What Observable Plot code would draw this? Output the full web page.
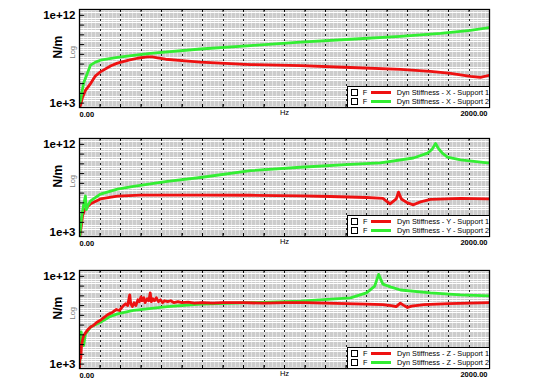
<!DOCTYPE html>
<html><head><meta charset="utf-8">
<script src="https://cdn.jsdelivr.net/npm/d3@7"></script>
<script src="https://cdn.jsdelivr.net/npm/@observablehq/plot@0.6"></script>
<style>
body{margin:0;background:#fff;font-family:"Liberation Sans",Arial,sans-serif;}
#wrap{position:relative;width:546px;height:388px;overflow:hidden;background:#fff;}
.panel{position:absolute;left:0;}
.legend{position:absolute;background:#fff;border:1px solid #000;box-sizing:border-box;font-size:7.3px;color:#000;padding:1px 0 0 3px;}
.row{height:9px;line-height:9px;white-space:nowrap;display:flex;align-items:center;}
.cb{display:inline-block;width:5px;height:5px;border:1px solid #000;margin-right:5px;}
.sw{display:inline-block;width:20px;height:3px;margin:0 6px 0 4px;}
</style></head><body><div id="wrap"></div><script>
// ---------- data (log10 of dynamic stiffness in N/m) ----------
const axesNames = ["X", "Y", "Z"];
const seriesNames = ["Support 1", "Support 2"];
const yTickValues = [1e3, 1e12];
const yTickLabels = ["1e+3", "1e+12"];
const xTickLabels = ["0.00", "2000.00"];

const freqX1 = [0, 5, 15, 29, 54, 78, 102, 151, 185, 240, 283, 330, 356, 380, 420, 500, 590, 834, 1078, 1322, 1566, 1712, 1810, 1907, 1956, 2000];
const logX1  = [2.5, 2.8, 3.6, 4.3, 5.0, 5.8, 6.2, 6.8, 7.1, 7.4, 7.6, 7.75, 7.75, 7.65, 7.5, 7.35, 7.2, 6.95, 6.85, 6.65, 6.45, 6.25, 6.05, 5.75, 5.65, 5.85];
const freqX2 = [0, 5, 20, 29, 54, 78, 102, 185, 283, 346, 590, 834, 1078, 1322, 1566, 1761, 1907, 2000];
const logX2  = [3.0, 3.3, 5.05, 5.55, 6.9, 7.2, 7.4, 7.7, 7.95, 8.1, 8.55, 8.9, 9.25, 9.55, 9.85, 10.15, 10.45, 10.75];

const freqY1 = [0, 10, 15, 25, 39, 54, 102, 185, 298, 590, 834, 1078, 1224, 1400, 1480, 1515, 1545, 1556, 1570, 1600, 1629, 1663, 1712, 1859, 1990, 2000];
const logY1  = [2.4, 3.8, 4.7, 5.3, 5.6, 5.9, 6.4, 6.7, 6.8, 6.8, 6.78, 6.72, 6.65, 6.55, 6.45, 5.9, 6.4, 7.1, 6.4, 6.0, 5.8, 6.1, 6.35, 6.45, 6.4, 6.4];
const freqY2 = [0, 10, 20, 29, 33, 40, 54, 102, 185, 263, 429, 590, 834, 1078, 1322, 1468, 1629, 1698, 1720, 1737, 1750, 1770, 1795, 1859, 1990, 2000];
const logY2  = [2.5, 4.5, 5.8, 6.7, 5.3, 5.7, 6.2, 6.9, 7.4, 7.7, 8.2, 8.6, 9.3, 9.65, 9.95, 10.1, 10.6, 11.1, 11.5, 12.1, 11.6, 11.1, 10.7, 10.4, 10.1, 10.1];

const freqZ1 = [0, 3, 6, 10, 15, 20, 29, 39, 54, 70, 85, 102, 120, 140, 160, 180, 195, 210, 225, 235, 245, 250, 258, 266, 275, 285, 292, 300, 306, 314, 320, 330, 338, 345, 350, 358, 366, 375, 385, 395, 405, 415, 430, 445, 460, 480, 500, 530, 560, 600, 650, 700, 800, 900, 1000, 1100, 1200, 1300, 1400, 1480, 1520, 1545, 1565, 1580, 1600, 1620, 1680, 1800, 1900, 2000];
const logZ1  = [2.5, 4.8, 3.6, 5.0, 5.5, 5.9, 6.2, 6.5, 6.8, 7.0, 7.3, 7.5, 7.8, 8.1, 8.3, 8.6, 8.5, 8.9, 9.2, 9.0, 10.1, 9.2, 8.9, 9.3, 9.0, 9.6, 9.4, 9.9, 9.5, 9.8, 9.3, 9.7, 9.5, 10.3, 9.4, 9.7, 9.5, 9.8, 9.4, 9.6, 9.3, 9.5, 9.4, 9.5, 9.3, 9.4, 9.3, 9.35, 9.25, 9.3, 9.25, 9.3, 9.3, 9.25, 9.3, 9.3, 9.25, 9.2, 9.15, 9.1, 9.0, 8.9, 9.25, 9.05, 8.8, 8.95, 9.1, 9.2, 9.25, 9.3];
const freqZ2 = [0, 4, 8, 12, 16, 20, 29, 54, 102, 151, 185, 263, 429, 590, 834, 1078, 1322, 1400, 1440, 1459, 1480, 1520, 1566, 1712, 1859, 2000];
const logZ2  = [2.5, 4.5, 6.3, 5.0, 5.4, 4.9, 6.1, 6.8, 7.3, 7.9, 8.15, 8.5, 8.9, 9.15, 9.3, 9.45, 9.8, 10.3, 11.0, 12.2, 11.2, 10.9, 10.6, 10.3, 10.1, 10.0];

const colors = ["#ee1111", "#33ee33"];

const panels = [
  {axis: "X", top: 0,   s: [[freqX1, logX1], [freqX2, logX2]], order: [0, 1]},
  {axis: "Y", top: 129, s: [[freqY1, logY1], [freqY2, logY2]], order: [0, 1]},
  {axis: "Z", top: 261, s: [[freqZ1, logZ1], [freqZ2, logZ2]], order: [1, 0]}
];

const yLo = Math.pow(10, 2.55), yHi = Math.pow(10, 12.6);
const minorY = [];
for (let k = 2; k <= 12; k++) for (const m of [2, 3, 5]) { const v = m * Math.pow(10, k); if (v > yLo && v < yHi) minorY.push(v); }
const decades = d3.range(3, 13).map(k => Math.pow(10, k));
const minorX = d3.range(0, 2001, 20);
const majorX = d3.range(100, 2000, 100);

const wrap = document.getElementById("wrap");
const H = 120, MT = 9, MB = 13, ML = 79, MR = 57;

panels.forEach(p => {
  const data = p.s.map(([f, v], i) => f.map((x, j) => ({f: x, k: Math.pow(10, v[j]), i})));
  const lines = p.order.map(i => Plot.line(data[i], {x: "f", y: "k", stroke: colors[i], strokeWidth: 2.8, curve: "linear", clip: "frame"}));
  const svg = Plot.plot({
    width: 546, height: H, marginTop: MT, marginBottom: MB, marginLeft: ML, marginRight: MR,
    style: {fontFamily: "Liberation Sans, Arial, sans-serif", background: "transparent"},
    x: {domain: [0, 2000], axis: null},
    y: {type: "log", domain: [yLo, yHi], axis: null},
    marks: [
      Plot.frame({fill: "#cccccc", stroke: null}),
      Plot.ruleX(minorX, {stroke: "#e2e2e2", strokeWidth: 1, shapeRendering: "crispEdges"}),
      Plot.ruleY(minorY, {stroke: "#fff", strokeWidth: 1, shapeRendering: "crispEdges"}),
      Plot.ruleX(majorX, {stroke: "#000", strokeWidth: 1, strokeDasharray: "2,3", strokeOpacity: 0.85, shapeRendering: "crispEdges"}),
      ...lines,
      Plot.ruleY(decades, {x1: 0, x2: 25, stroke: "#000", strokeWidth: 1}),
      Plot.ruleX(majorX, {y1: yLo, y2: Math.pow(10, 2.85), stroke: "#000"}),
      Plot.ruleX(majorX, {y1: Math.pow(10, 12.3), y2: yHi, stroke: "#000"}),
      Plot.frame({stroke: "#000", strokeWidth: 1.3}),
      Plot.text(yTickValues, {x: 0, y: d => d, text: (d, i) => yTickLabels[i], dx: -4, textAnchor: "end", fontSize: 11.5, fontWeight: "bold", fill: "#000"}),
      Plot.text(["N/m"], {frameAnchor: "left", rotate: -90, dx: -21, fontSize: 12, fontWeight: "bold", fill: "#000"}),
      Plot.text(["Log"], {frameAnchor: "left", rotate: -90, dx: -7, fontSize: 7.5, fill: "#777"}),
      Plot.text([xTickLabels[0]], {frameAnchor: "bottom-left", dy: 9, textAnchor: "start", fontSize: 7.5, fontWeight: "bold", fill: "#000"}),
      Plot.text([xTickLabels[1]], {frameAnchor: "bottom-right", dy: 8, dx: -2, textAnchor: "end", fontSize: 7.5, fontWeight: "bold", fill: "#000"}),
      Plot.text(["Hz"], {frameAnchor: "bottom", dy: 7, fontSize: 7.5, fill: "#000"})
    ]
  });
  const div = document.createElement("div");
  div.className = "panel";
  div.style.top = p.top + "px";
  div.appendChild(svg);
  wrap.appendChild(div);

  const lg = document.createElement("div");
  lg.className = "legend";
  const plotBottom = p.top + H - MB;
  lg.style.left = "347px";
  lg.style.width = (546 - MR - 347 + 1) + "px";
  lg.style.top = (plotBottom - 21) + "px";
  lg.style.height = "22px";
  seriesNames.forEach((n, i) => {
    const r = document.createElement("div");
    r.className = "row";
    r.innerHTML = `<span class="cb"></span><span>F</span><span class="sw" style="background:${colors[i]}"></span><span>Dyn Stiffness - ${p.axis} - ${n}</span>`;
    lg.appendChild(r);
  });
  wrap.appendChild(lg);
});
</script></body></html>
